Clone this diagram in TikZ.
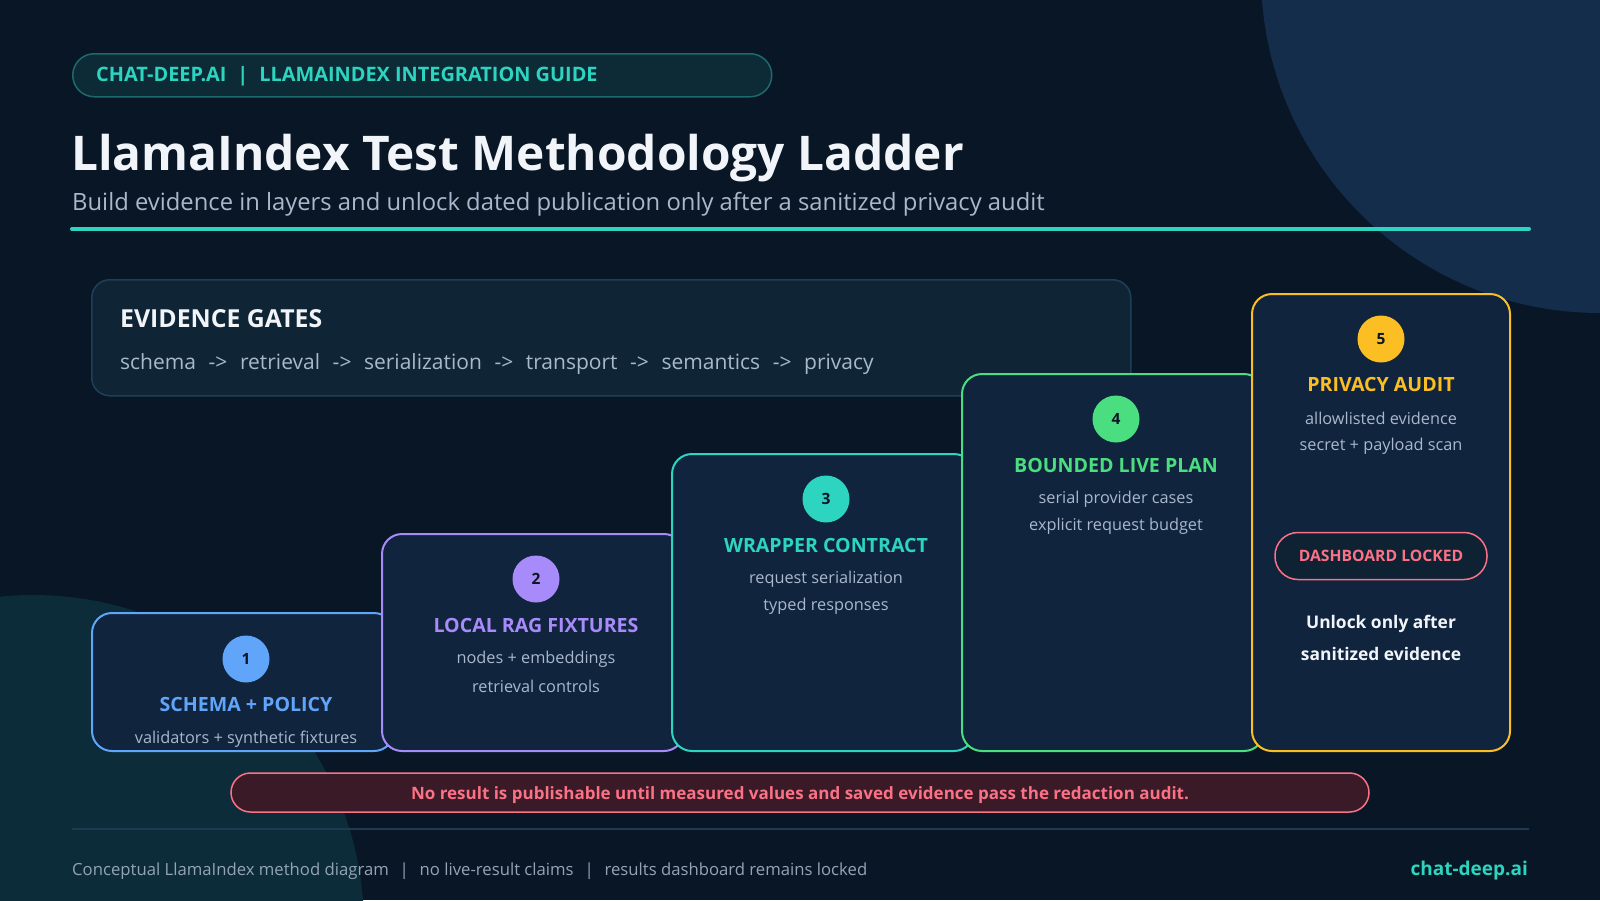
\documentclass[tikz,border=0pt]{standalone}
\usepackage{fontspec}
\setmainfont{Open Sans}
\usetikzlibrary{positioning}

\definecolor{bg}{HTML}{081626}
\definecolor{blobtr}{HTML}{142D4A}
\definecolor{blobbl}{HTML}{0B2C38}
\definecolor{cardfill}{HTML}{10243D}
\definecolor{gatefill}{HTML}{0F2536}
\definecolor{gateline}{HTML}{1E3F58}
\definecolor{pillfill}{HTML}{0D2B36}
\definecolor{pillline}{HTML}{1D6A6E}
\definecolor{teal}{HTML}{2DD4BF}
\definecolor{stepblue}{HTML}{60A5FA}
\definecolor{steppurple}{HTML}{A78BFA}
\definecolor{stepgreen}{HTML}{4ADE80}
\definecolor{stepamber}{HTML}{FBBF24}
\definecolor{rose}{HTML}{FB7185}
\definecolor{warnfill}{HTML}{3A1A26}
\definecolor{lockfill}{HTML}{0F2233}
\definecolor{muted}{HTML}{A9B8CC}
\definecolor{footgray}{HTML}{94A3B8}
\definecolor{offwhite}{HTML}{F1F5F9}
\definecolor{numtext}{HTML}{0B1626}
\definecolor{sepline}{HTML}{1E3A52}

\newcommand{\gto}{\hspace{0.6em}->\hspace{0.6em}}
\newcommand{\fbar}{\hspace{0.65em}|\hspace{0.65em}}

\tikzset{
  card/.style={draw, line width=2pt, fill=cardfill, rounded corners=20pt,
    anchor=north west, minimum width=302pt, inner sep=0pt},
  numdot/.style={circle, minimum size=47pt, inner sep=0pt, text=numtext,
    font=\bfseries\fontsize{15.5}{18}\selectfont},
  cardtitle/.style={font=\bfseries\fontsize{19.6}{23}\selectfont},
  cardline/.style={text=muted, font=\fontsize{16.3}{19}\selectfont},
}

\begin{document}
\begin{tikzpicture}[x=1pt, y=-1pt]
    % Canvas
    \useasboundingbox (0,0) rectangle (1600,900);
    \fill[bg] (0,0) rectangle (1600,900);
    \begin{scope}
        \clip (0,0) rectangle (1600,900);
        \fill[blobtr] (1600,-26) circle[radius=339];
        \fill[blobbl] (33,926) circle[radius=331];
    \end{scope}

    % Header
    \node[draw=pillline, line width=1.5pt, fill=pillfill, rounded corners=21.5pt,
        minimum width=699pt, minimum height=43pt, anchor=north west] (tag) at (72,53) {};
    \node[anchor=west, text=teal, font=\bfseries\fontsize{19.9}{22}\selectfont, inner sep=0pt]
        (tagtext) at (96,76) {CHAT-DEEP.AI\hspace{0.55em}|\hspace{0.55em}LLAMAINDEX INTEGRATION GUIDE};
    \node[anchor=base west, text=offwhite, font=\bfseries\fontsize{47.8}{54}\selectfont, inner sep=0pt]
        (title) at (71,170) {LlamaIndex Test Methodology Ladder};
    \node[anchor=base west, text=muted, font=\fontsize{23.8}{28}\selectfont, inner sep=0pt]
        (subtitle) at (72,210) {Build evidence in layers and unlock dated publication only after a sanitized privacy audit};
    \coordinate (rulel) at (72,229);
    \coordinate (ruler) at (1529,229);
    \draw[teal, line width=4pt, line cap=round] (rulel) -- (ruler);

    % Evidence gates
    \node[draw=gateline, line width=1.5pt, fill=gatefill, rounded corners=18pt,
        minimum width=1039pt, minimum height=116pt, anchor=north west] (gates) at (91,279) {};
    \node[anchor=base west, text=offwhite, font=\bfseries\fontsize{24.8}{28}\selectfont, inner sep=0pt]
        (gatestitle) at (120,327) {EVIDENCE GATES};
    \node[anchor=base west, text=muted, font=\fontsize{21}{25}\selectfont, inner sep=0pt]
        (gatechain) at (120,369) {schema\gto retrieval\gto serialization\gto transport\gto semantics\gto privacy};

    % Step 1
    \node[card, draw=stepblue, minimum height=138pt] (card1) at (91,612) {};
    \node[numdot, fill=stepblue] (num1) at ([xshift=3pt, yshift=-47pt]card1.north) {1};
    \node[cardtitle, text=stepblue] (title1) at ([yshift=-92pt]card1.north -| num1) {SCHEMA + POLICY};
    \node[cardline] (line1a) at ([yshift=-127pt]card1.north -| num1) {validators + synthetic fixtures};

    % Step 2
    \node[card, draw=steppurple, minimum height=217pt] (card2) at (381,533) {};
    \node[numdot, fill=steppurple] (num2) at ([xshift=3pt, yshift=-46pt]card2.north) {2};
    \node[cardtitle, text=steppurple] (title2) at ([yshift=-92pt]card2.north -| num2) {LOCAL RAG FIXTURES};
    \node[cardline] (line2a) at ([yshift=-126pt]card2.north -| num2) {nodes + embeddings};
    \node[cardline] (line2b) at ([yshift=-153pt]card2.north -| num2) {retrieval controls};

    % Step 3
    \node[card, draw=teal, minimum height=297pt] (card3) at (671,453) {};
    \node[numdot, fill=teal] (num3) at ([xshift=3pt, yshift=-46pt]card3.north) {3};
    \node[cardtitle, text=teal] (title3) at ([yshift=-92pt]card3.north -| num3) {WRAPPER CONTRACT};
    \node[cardline] (line3a) at ([yshift=-126pt]card3.north -| num3) {request serialization};
    \node[cardline] (line3b) at ([yshift=-153pt]card3.north -| num3) {typed responses};

    % Step 4
    \node[card, draw=stepgreen, minimum height=377pt] (card4) at (961,373) {};
    \node[numdot, fill=stepgreen] (num4) at ([xshift=3pt, yshift=-46pt]card4.north) {4};
    \node[cardtitle, text=stepgreen] (title4) at ([yshift=-92pt]card4.north -| num4) {BOUNDED LIVE PLAN};
    \node[cardline] (line4a) at ([yshift=-126pt]card4.north -| num4) {serial provider cases};
    \node[cardline] (line4b) at ([yshift=-153pt]card4.north -| num4) {explicit request budget};

    % Step 5
    \node[card, draw=stepamber, minimum width=258pt, minimum height=457pt] (card5) at (1251,293) {};
    \node[numdot, fill=stepamber] (num5) at ([yshift=-46pt]card5.north) {5};
    \node[cardtitle, text=stepamber] (title5) at ([yshift=-91pt]card5.north) {PRIVACY AUDIT};
    \node[cardline] (line5a) at ([yshift=-125pt]card5.north) {allowlisted evidence};
    \node[cardline] (line5b) at ([yshift=-153pt]card5.north) {secret + payload scan};
    \node[draw=rose, line width=1.5pt, fill=lockfill, rounded corners=23pt,
        minimum width=212pt, minimum height=47pt, text=rose,
        font=\bfseries\fontsize{15.7}{18}\selectfont] (lock) at ([yshift=-263pt]card5.north) {DASHBOARD LOCKED};
    \node[text=offwhite, font=\bfseries\fontsize{17.4}{20}\selectfont] (unlocka) at ([yshift=-331pt]card5.north) {Unlock only after};
    \node[text=offwhite, font=\bfseries\fontsize{17.4}{20}\selectfont] (unlockb) at ([yshift=-361pt]card5.north) {sanitized evidence};

    % Warning
    \node[draw=rose, line width=1.5pt, fill=warnfill, rounded corners=19.5pt,
        minimum width=1138pt, minimum height=39pt] (warn) at (800,792.5) {};
    \node[text=rose, font=\bfseries\fontsize{17}{20}\selectfont] (warntext) at ([yshift=-3pt]warn.center)
        {No result is publishable until measured values and saved evidence pass the redaction audit.};

    % Footer
    \coordinate (sepl) at (72,829);
    \coordinate (sepr) at (1529,829);
    \draw[sepline, line width=2pt] (sepl) -- (sepr);
    \node[anchor=west, text=footgray, font=\fontsize{16.7}{20}\selectfont, inner sep=0pt] (foot) at (72,871)
        {Conceptual LlamaIndex method diagram\fbar no live-result claims\fbar results dashboard remains locked};
    \node[anchor=east, text=teal, font=\bfseries\fontsize{19}{22}\selectfont, inner sep=0pt] (site) at (1528,871) {chat-deep.ai};
\end{tikzpicture}
\end{document}
